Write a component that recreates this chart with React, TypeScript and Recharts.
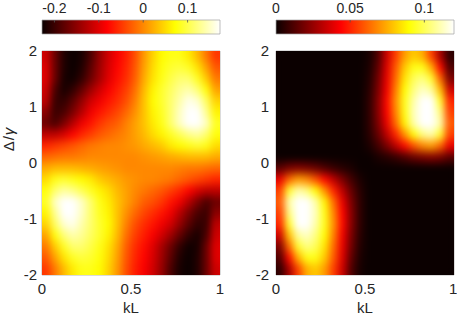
import { ScatterChart, Scatter, XAxis, YAxis, ReferenceArea } from "recharts";

// cell centres of the sampled grid
const KL = [
  0.025, 0.075, 0.125, 0.175, 0.225, 0.275, 0.325, 0.375, 0.425, 0.475,
  0.525, 0.575, 0.625, 0.675, 0.725, 0.775, 0.825, 0.875, 0.925, 0.975,
];
const DELTA = [
  1.9, 1.7, 1.5, 1.3, 1.1, 0.9, 0.7, 0.5, 0.3, 0.1,
  -0.1, -0.3, -0.5, -0.7, -0.9, -1.1, -1.3, -1.5, -1.7, -1.9,
];

const KL_TICKS = [0, 0.5, 1];
const DELTA_TICKS = [-2, -1, 0, 1, 2];

const LEFT_RANGE = [-0.228, 0.173];
const RIGHT_RANGE = [0, 0.12];
const LEFT_BAR_TICKS = [-0.2, -0.1, 0, 0.1];
const RIGHT_BAR_TICKS = [0, 0.05, 0.1];

// rows follow DELTA (top to bottom), columns follow KL
const LEFT_MAP = [
  [-0.11, -0.17, -0.215, -0.23, -0.22, -0.19, -0.145, -0.11, -0.085, -0.065, -0.035, 0.01, 0.045, 0.07, 0.08, 0.08, 0.06, 0.03, -0.01, -0.05],
  [-0.10, -0.17, -0.215, -0.23, -0.215, -0.18, -0.14, -0.105, -0.08, -0.06, -0.03, 0.015, 0.05, 0.075, 0.09, 0.095, 0.085, 0.055, 0.015, -0.03],
  [-0.10, -0.17, -0.22, -0.225, -0.205, -0.17, -0.135, -0.10, -0.075, -0.055, -0.025, 0.02, 0.055, 0.08, 0.10, 0.115, 0.115, 0.085, 0.04, -0.01],
  [-0.11, -0.19, -0.22, -0.205, -0.175, -0.14, -0.11, -0.085, -0.065, -0.045, -0.015, 0.03, 0.065, 0.09, 0.11, 0.13, 0.14, 0.12, 0.075, 0.015],
  [-0.12, -0.20, -0.205, -0.18, -0.145, -0.11, -0.09, -0.07, -0.055, -0.035, -0.005, 0.035, 0.07, 0.09, 0.115, 0.14, 0.165, 0.155, 0.11, 0.045],
  [-0.15, -0.20, -0.19, -0.16, -0.125, -0.09, -0.07, -0.055, -0.04, -0.02, 0.005, 0.035, 0.065, 0.085, 0.115, 0.15, 0.18, 0.18, 0.13, 0.065],
  [-0.17, -0.19, -0.16, -0.125, -0.09, -0.07, -0.05, -0.035, -0.025, -0.005, 0.015, 0.035, 0.06, 0.08, 0.115, 0.15, 0.18, 0.19, 0.15, 0.085],
  [-0.12, -0.12, -0.105, -0.08, -0.06, -0.045, -0.03, -0.02, -0.01, 0.0, 0.015, 0.03, 0.05, 0.065, 0.085, 0.105, 0.125, 0.135, 0.115, 0.075],
  [-0.06, -0.05, -0.04, -0.03, -0.02, -0.01, -0.005, 0.0, 0.0, 0.005, 0.01, 0.02, 0.03, 0.04, 0.06, 0.07, 0.08, 0.09, 0.08, 0.05],
  [-0.02, -0.015, -0.01, -0.01, -0.005, 0, 0, 0, 0, 0, 0, 0.005, 0.01, 0.015, 0.02, 0.025, 0.03, 0.03, 0.03, 0.02],
  [0.02, 0.03, 0.03, 0.03, 0.025, 0.02, 0.015, 0.01, 0.005, 0, 0, 0, 0, 0, 0, -0.005, -0.01, -0.01, -0.015, -0.02],
  [0.05, 0.08, 0.09, 0.08, 0.07, 0.06, 0.04, 0.03, 0.02, 0.01, 0.005, 0.0, 0.0, -0.005, -0.01, -0.02, -0.03, -0.04, -0.05, -0.06],
  [0.075, 0.115, 0.135, 0.125, 0.105, 0.085, 0.065, 0.05, 0.03, 0.015, 0.0, -0.01, -0.02, -0.03, -0.045, -0.06, -0.08, -0.105, -0.12, -0.12],
  [0.085, 0.15, 0.19, 0.18, 0.15, 0.115, 0.08, 0.06, 0.035, 0.015, -0.005, -0.025, -0.035, -0.05, -0.07, -0.09, -0.125, -0.16, -0.19, -0.17],
  [0.065, 0.13, 0.18, 0.18, 0.15, 0.115, 0.085, 0.065, 0.035, 0.005, -0.02, -0.04, -0.055, -0.07, -0.09, -0.125, -0.16, -0.19, -0.20, -0.15],
  [0.045, 0.11, 0.155, 0.165, 0.14, 0.115, 0.09, 0.07, 0.035, -0.005, -0.035, -0.055, -0.07, -0.09, -0.11, -0.145, -0.18, -0.205, -0.20, -0.12],
  [0.015, 0.075, 0.12, 0.14, 0.13, 0.11, 0.09, 0.065, 0.03, -0.015, -0.045, -0.065, -0.085, -0.11, -0.14, -0.175, -0.205, -0.22, -0.19, -0.11],
  [-0.01, 0.04, 0.085, 0.115, 0.115, 0.10, 0.08, 0.055, 0.02, -0.025, -0.055, -0.075, -0.10, -0.135, -0.17, -0.205, -0.225, -0.22, -0.17, -0.10],
  [-0.03, 0.015, 0.055, 0.085, 0.095, 0.09, 0.075, 0.05, 0.015, -0.03, -0.06, -0.08, -0.105, -0.14, -0.18, -0.215, -0.23, -0.215, -0.17, -0.10],
  [-0.05, -0.01, 0.03, 0.06, 0.08, 0.08, 0.07, 0.045, 0.01, -0.035, -0.065, -0.085, -0.11, -0.145, -0.19, -0.22, -0.23, -0.215, -0.17, -0.11],
];

const RIGHT_MAP = [
  [0, 0, 0, 0, 0, 0, 0, 0, 0, 0, 0.002, 0.012, 0.035, 0.055, 0.072, 0.08, 0.075, 0.055, 0.028, 0.006],
  [0, 0, 0, 0, 0, 0, 0, 0, 0, 0, 0.003, 0.015, 0.038, 0.06, 0.08, 0.092, 0.092, 0.075, 0.045, 0.012],
  [0, 0, 0, 0, 0, 0, 0, 0, 0, 0, 0.004, 0.018, 0.04, 0.063, 0.085, 0.1, 0.105, 0.095, 0.062, 0.02],
  [0, 0, 0, 0, 0, 0, 0, 0, 0, 0, 0.005, 0.02, 0.042, 0.067, 0.09, 0.105, 0.113, 0.108, 0.078, 0.035],
  [0, 0, 0, 0, 0, 0, 0, 0, 0, 0, 0.006, 0.022, 0.045, 0.07, 0.093, 0.11, 0.12, 0.12, 0.095, 0.05],
  [0, 0, 0, 0, 0, 0, 0, 0, 0, 0, 0.006, 0.022, 0.044, 0.068, 0.092, 0.112, 0.125, 0.13, 0.105, 0.055],
  [0, 0, 0, 0, 0, 0, 0, 0, 0, 0, 0.006, 0.02, 0.04, 0.063, 0.088, 0.11, 0.125, 0.135, 0.11, 0.06],
  [0, 0, 0, 0, 0, 0, 0, 0, 0, 0, 0.005, 0.016, 0.032, 0.05, 0.07, 0.09, 0.105, 0.11, 0.095, 0.055],
  [0, 0, 0, 0, 0, 0, 0, 0, 0, 0, 0.003, 0.01, 0.02, 0.032, 0.045, 0.058, 0.068, 0.072, 0.062, 0.04],
  [0, 0, 0, 0, 0, 0, 0, 0, 0, 0, 0, 0.003, 0.005, 0.008, 0.012, 0.017, 0.02, 0.022, 0.02, 0.014],
  [0.014, 0.02, 0.022, 0.02, 0.017, 0.012, 0.008, 0.005, 0.003, 0, 0, 0, 0, 0, 0, 0, 0, 0, 0, 0],
  [0.04, 0.062, 0.072, 0.068, 0.058, 0.045, 0.032, 0.02, 0.01, 0.003, 0, 0, 0, 0, 0, 0, 0, 0, 0, 0],
  [0.055, 0.095, 0.11, 0.105, 0.09, 0.07, 0.05, 0.032, 0.016, 0.005, 0, 0, 0, 0, 0, 0, 0, 0, 0, 0],
  [0.06, 0.11, 0.135, 0.125, 0.11, 0.088, 0.063, 0.04, 0.02, 0.006, 0, 0, 0, 0, 0, 0, 0, 0, 0, 0],
  [0.055, 0.105, 0.13, 0.125, 0.112, 0.092, 0.068, 0.044, 0.022, 0.006, 0, 0, 0, 0, 0, 0, 0, 0, 0, 0],
  [0.05, 0.095, 0.12, 0.12, 0.11, 0.093, 0.07, 0.045, 0.022, 0.006, 0, 0, 0, 0, 0, 0, 0, 0, 0, 0],
  [0.035, 0.078, 0.108, 0.113, 0.105, 0.09, 0.067, 0.042, 0.02, 0.005, 0, 0, 0, 0, 0, 0, 0, 0, 0, 0],
  [0.02, 0.062, 0.095, 0.105, 0.1, 0.085, 0.063, 0.04, 0.018, 0.004, 0, 0, 0, 0, 0, 0, 0, 0, 0, 0],
  [0.012, 0.045, 0.075, 0.092, 0.092, 0.08, 0.06, 0.038, 0.015, 0.003, 0, 0, 0, 0, 0, 0, 0, 0, 0, 0],
  [0.006, 0.028, 0.055, 0.075, 0.08, 0.072, 0.055, 0.035, 0.012, 0.002, 0, 0, 0, 0, 0, 0, 0, 0, 0, 0],
];

const FONT = "'Liberation Sans', Arial, Helvetica, sans-serif";
const TEXT = "#262626";
const PLOT_W = 178;
const PLOT_H = 224;
const CELL_W = PLOT_W / KL.length;
const CELL_H = PLOT_H / DELTA.length;

// MATLAB "hot" colormap (64 entries)
function hot(v: number, range: number[]) {
  const t = Math.min(1, Math.max(0, (v - range[0]) / (range[1] - range[0])));
  const i = t * 63 + 1;
  const r = Math.min(1, i / 24);
  const g = Math.min(1, Math.max(0, (i - 24) / 24));
  const b = Math.min(1, Math.max(0, (i - 48) / 16));
  return `rgb(${Math.round(r * 255)},${Math.round(g * 255)},${Math.round(b * 255)})`;
}

const toCells = (grid: number[][]) =>
  grid.flatMap((row, i) => row.map((v, j) => ({ kl: KL[j], delta: DELTA[i], v })));

const cellShape = (range: number[]) => (props: any) => {
  const { cx, cy, payload } = props;
  return (
    <rect
      x={cx - CELL_W / 2 - 0.4}
      y={cy - CELL_H / 2 - 0.4}
      width={CELL_W + 0.8}
      height={CELL_H + 0.8}
      fill={hot(payload.v, range)}
    />
  );
};

// small inward tick marks on top edge of the colour bar
const barTickShape = (props: any) => {
  const { cx, cy } = props;
  return <line x1={cx} x2={cx} y1={cy} y2={cy + 2.5} stroke="#555" strokeWidth={0.8} />;
};

const yLabel = () => (
  <text
    transform="translate(14,99) rotate(-90)"
    textAnchor="middle"
    fontSize={15}
    fontFamily={FONT}
    fill={TEXT}
    letterSpacing={1}
  >
    <tspan>Δ/</tspan>
    <tspan fontStyle="italic">γ</tspan>
  </text>
);

interface PanelProps {
  left: number;
  width: number;
  axisWidth: number;
  marginLeft: number;
  marginRight: number;
  grid: number[][];
  range: number[];
  barTicks: number[];
  tickSize: number;
  showYLabel?: boolean;
}

function Panel({ left, width, axisWidth, marginLeft, marginRight, grid, range, barTicks, tickSize, showYLabel }: PanelProps) {
  const cells = toCells(grid);
  const barMarks = barTicks.map((v) => ({ v, pos: 1 }));
  const tick = { fontSize: 15, fill: TEXT, fontFamily: FONT };
  return (
    <>
      <div style={{ position: "absolute", left, top: 0 }}>
        <ScatterChart
          width={width}
          height={40}
          margin={{ top: 0, right: marginRight, bottom: 6, left: marginLeft + axisWidth }}
        >
          <XAxis
            type="number"
            dataKey="v"
            orientation="top"
            domain={range}
            ticks={barTicks}
            allowDataOverflow
            height={20}
            axisLine={false}
            tickLine={false}
            tickSize={5}
            tickMargin={2}
            tick={{ ...tick, fontSize: 14 }}
          />
          <YAxis type="number" dataKey="pos" domain={[0, 1]} allowDataOverflow hide />
          <ReferenceArea
            x1={range[0]}
            x2={range[1]}
            y1={0}
            y2={1}
            fill="url(#hotGradient)"
            fillOpacity={1}
            stroke="#a0a0a0"
            strokeWidth={0.7}
            ifOverflow="visible"
          />
          <Scatter data={barMarks} shape={barTickShape} isAnimationActive={false} />
        </ScatterChart>
      </div>
      <div className="heatmap" style={{ position: "absolute", left, top: 40 }}>
        <ScatterChart
          width={width}
          height={276}
          margin={{ top: 11, right: marginRight, bottom: 1, left: marginLeft }}
        >
          <XAxis
            type="number"
            dataKey="kl"
            domain={[0, 1]}
            ticks={KL_TICKS}
            allowDataOverflow
            height={40}
            axisLine={false}
            tickLine={false}
            tickSize={6}
            tickMargin={2}
            tick={tick}
            label={{ value: "kL", position: "insideBottom", offset: 2, fontSize: 15, fill: TEXT, fontFamily: FONT }}
          />
          <YAxis
            type="number"
            dataKey="delta"
            domain={[-2, 2]}
            ticks={DELTA_TICKS}
            allowDataOverflow
            width={axisWidth}
            axisLine={false}
            tickLine={false}
            tickSize={tickSize}
            tickMargin={2}
            tick={tick}
            label={showYLabel ? yLabel : undefined}
          />
          <Scatter data={cells} shape={cellShape(range)} isAnimationActive={false} />
          <ReferenceArea
            x1={0}
            x2={1}
            y1={-2}
            y2={2}
            fill="none"
            stroke="#9a9a9a"
            strokeWidth={0.7}
          />
        </ScatterChart>
      </div>
    </>
  );
}

export default function App() {
  return (
    <div style={{ position: "absolute", left: 0, top: 0, width: 457, height: 316, background: "#fff" }}>
      <style>{`.heatmap .recharts-scatter { filter: url(#smoothHeat); }`}</style>
      <svg width={1} height={1} style={{ position: "absolute", left: 0, top: 0 }}>
        <defs>
          <linearGradient id="hotGradient" x1="0" y1="0" x2="1" y2="0">
            <stop offset="0" stopColor="#0b0000" />
            <stop offset="0.365" stopColor="#ff0000" />
            <stop offset="0.746" stopColor="#ffff00" />
            <stop offset="1" stopColor="#ffffff" />
          </linearGradient>
          <filter id="smoothHeat" x="0" y="0" width="1" height="1" colorInterpolationFilters="sRGB">
            <feGaussianBlur stdDeviation="3.5 4.5" />
            <feComponentTransfer>
              <feFuncA type="linear" slope="40" intercept="0" />
            </feComponentTransfer>
          </filter>
        </defs>
      </svg>
      <Panel
        left={0}
        width={230}
        axisWidth={30}
        marginLeft={12}
        marginRight={10}
        grid={LEFT_MAP}
        range={LEFT_RANGE}
        barTicks={LEFT_BAR_TICKS}
        tickSize={3}
        showYLabel
      />
      <Panel
        left={230}
        width={227}
        axisWidth={46}
        marginLeft={0}
        marginRight={3}
        grid={RIGHT_MAP}
        range={RIGHT_RANGE}
        barTicks={RIGHT_BAR_TICKS}
        tickSize={5}
      />
    </div>
  );
}
